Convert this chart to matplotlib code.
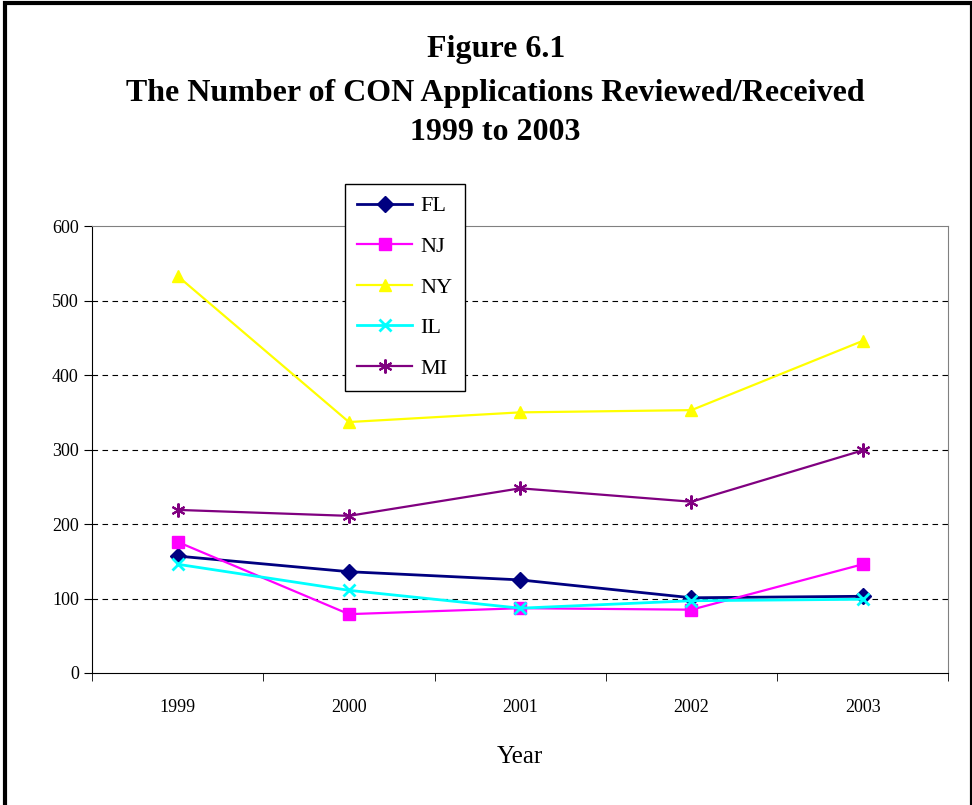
import matplotlib.pyplot as plt
import numpy as np
from matplotlib.patches import Rectangle

plt.rcParams['font.family'] = ['Liberation Serif', 'DejaVu Serif']

years = ['1999', '2000', '2001', '2002', '2003']
fl = [157, 136, 125, 101, 103]
nj = [176, 79, 87, 85, 146]
ny = [533, 337, 350, 353, 446]
il = [146, 111, 87, 97, 99]
mi = [219, 211, 248, 230, 299]

fig = plt.figure(figsize=(9.72, 8.05), dpi=100)
ax = fig.add_axes([0.0947, 0.164, 0.881, 0.555])

x = np.arange(len(years))
ax.plot(x, fl, color='#000080', marker='D', markersize=8, lw=2, label='FL')
ax.plot(x, nj, color='#ff00ff', marker='s', markersize=9, lw=1.6, label='NJ')
ax.plot(x, ny, color='#ffff00', marker='^', markersize=9, lw=1.6, label='NY')
ax.plot(x, il, color='#00ffff', marker='x', markersize=9, mew=2, lw=2, label='IL')
ax.plot(x, mi, color='#800080', marker=(6, 2, 0), markersize=10, mew=1.5, lw=1.6, label='MI')

ax.set_xlim(-0.5, 4.5)
ax.set_ylim(0, 600)
ax.set_yticks(range(0, 601, 100))
ax.set_xticks(x)
ax.set_xticklabels(years, fontsize=13)
ax.set_xticks(np.arange(-0.5, 4.6, 1), minor=True)
ax.tick_params(axis='x', which='major', length=0, pad=19)
ax.tick_params(axis='x', which='minor', length=6, direction='out')
ax.tick_params(axis='y', labelsize=13, length=6, direction='out')
for y in range(100, 600, 100):
    ax.axhline(y, color='black', ls=(0, (5, 4)), lw=0.8, zorder=0)
ax.spines['top'].set_color('gray')
ax.spines['right'].set_color('gray')
ax.set_xlabel('Year', fontsize=18, labelpad=21)

leg = ax.legend(loc='upper left', bbox_to_anchor=(0.282, 1.12), fontsize=16,
                frameon=True, fancybox=False, edgecolor='black', framealpha=1,
                handlelength=2.5, handletextpad=0.35, labelspacing=0.9, borderpad=0.55)
leg.get_frame().set_linewidth(1)

fig.text(0.51, 0.939, 'Figure 6.1', ha='center', va='center', fontsize=23, fontweight='bold')
fig.text(0.51, 0.884, 'The Number of CON Applications Reviewed/Received', ha='center', va='center',
         fontsize=23, fontweight='bold')
fig.text(0.51, 0.836, '1999 to 2003', ha='center', va='center', fontsize=23, fontweight='bold')

fig.patches.append(Rectangle((0.005, -0.01), 0.995, 1.006, transform=fig.transFigure,
                             fill=False, edgecolor='black', lw=3))

fig.savefig('out.png', dpi=100)
